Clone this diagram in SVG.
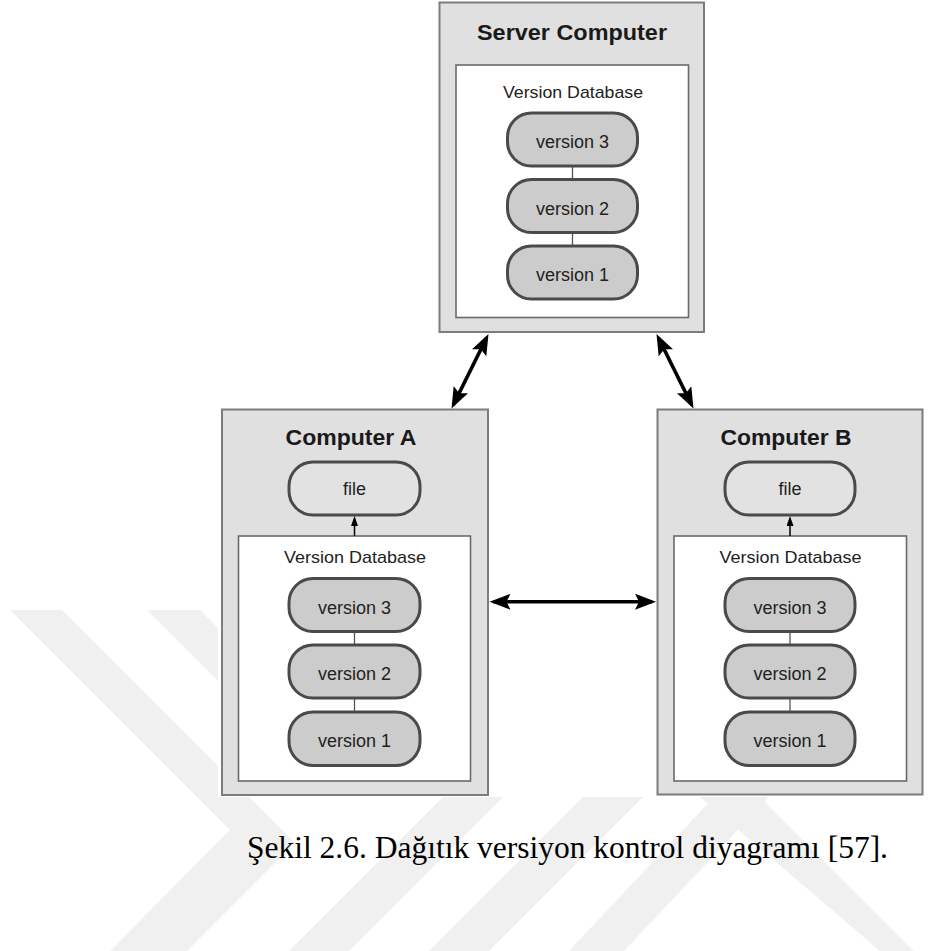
<svg xmlns="http://www.w3.org/2000/svg" width="949" height="951" viewBox="0 0 949 951">
  <style>
    .wm { fill: #f0f0f0; }
    .outer { fill: #e0e0e0; stroke: #7c7c7c; stroke-width: 2; }
    .inner { fill: #ffffff; stroke: #6a6a6a; stroke-width: 1.6; }
    .pill { fill: #cccccc; stroke: #4a4a4a; stroke-width: 3; }
    .file { fill: #e2e2e2; stroke: #4a4a4a; stroke-width: 3; }
    .link { stroke: #555555; stroke-width: 1.3; }
    .title { font-family: "Liberation Sans", Arial, sans-serif; font-weight: bold; font-size: 21.5px; fill: #1a1a1a; text-anchor: middle; }
    .db { font-family: "Liberation Sans", Arial, sans-serif; font-size: 17px; fill: #222222; text-anchor: middle; }
    .lbl { font-family: "Liberation Sans", Arial, sans-serif; font-size: 18px; fill: #222222; text-anchor: middle; }
    .caption { font-family: "Liberation Serif", "Times New Roman", serif; font-size: 30.5px; fill: #000000; }
    .big { stroke: #000000; stroke-width: 3.5; fill: none; }
    .small { stroke: #000000; stroke-width: 1.5; fill: none; }
  </style>
  <defs>
    <marker id="head" markerUnits="userSpaceOnUse" markerWidth="22" markerHeight="17" refX="17" refY="8" orient="auto-start-reverse">
      <path d="M0,0 L21,8 L0,16 L4,8 z" fill="#000000"/>
    </marker>
    <marker id="tip" markerUnits="userSpaceOnUse" markerWidth="11" markerHeight="8" refX="7.5" refY="3.5" orient="auto">
      <path d="M0,0 L10,3.5 L0,7 z" fill="#000000"/>
    </marker>
  </defs>

  <!-- page background and faint background bands -->
  <rect x="0" y="0" width="949" height="951" fill="#ffffff"/>
  <g id="background-bands">
    <polygon class="wm" points="10,610 62,610 295,843 187,951 110,951 230,830"/>
    <polygon class="wm" points="147,610 200,610 380,790 327,790"/>
    <polygon class="wm" points="1240,0 1300,0 349,951 289,951" transform="translate(0,0)"/>
    <polygon class="wm" points="1380,0 1440,0 489,951 429,951"/>
    <polygon class="wm" points="700,797 760,797 949,986 949,951 880,951"/>
    <polygon class="wm" points="714,797 769,797 624,951 569,951"/>
  </g>

  <!-- figure area -->
  <rect x="218" y="0" width="731" height="797" fill="#ffffff"/>

  <g id="server-computer">
    <rect class="outer" x="439.5" y="2.5" width="264.5" height="329.5"/>
    <text class="title" x="572" y="40" textLength="190" lengthAdjust="spacingAndGlyphs">Server Computer</text>
    <rect class="inner" x="456" y="65" width="232.5" height="252.5"/>
    <text class="db" x="573" y="98" textLength="140" lengthAdjust="spacingAndGlyphs">Version Database</text>
    <line class="link" x1="572.5" y1="166" x2="572.5" y2="179.5"/>
    <line class="link" x1="572.5" y1="232.5" x2="572.5" y2="246"/>
    <rect class="pill" x="507.5" y="113" width="130" height="53" rx="24" ry="24"/>
    <text class="lbl" x="572.5" y="148">version 3</text>
    <rect class="pill" x="507.5" y="179.5" width="130" height="53" rx="24" ry="24"/>
    <text class="lbl" x="572.5" y="214.5">version 2</text>
    <rect class="pill" x="507.5" y="246" width="130" height="53" rx="24" ry="24"/>
    <text class="lbl" x="572.5" y="281">version 1</text>
  </g>

  <g id="computer-a">
    <rect class="outer" x="222" y="409.5" width="266" height="385.5"/>
    <text class="title" x="351" y="445" textLength="131" lengthAdjust="spacingAndGlyphs">Computer A</text>
    <rect class="file" x="289" y="462" width="131" height="53" rx="24" ry="24"/>
    <text class="lbl" x="354.5" y="495">file</text>
    <rect class="inner" x="238.5" y="536" width="232" height="245"/>
    <text class="db" x="355" y="563" textLength="142" lengthAdjust="spacingAndGlyphs">Version Database</text>
    <line class="link" x1="354.5" y1="631.5" x2="354.5" y2="645"/>
    <line class="link" x1="354.5" y1="698" x2="354.5" y2="712"/>
    <rect class="pill" x="289" y="578.5" width="131" height="53" rx="24" ry="24"/>
    <text class="lbl" x="354.5" y="613.5">version 3</text>
    <rect class="pill" x="289" y="645" width="131" height="53" rx="24" ry="24"/>
    <text class="lbl" x="354.5" y="680">version 2</text>
    <rect class="pill" x="289" y="712" width="131" height="53.5" rx="24" ry="24"/>
    <text class="lbl" x="354.5" y="747">version 1</text>
  </g>

  <g id="computer-b">
    <rect class="outer" x="657.5" y="409.5" width="265" height="385"/>
    <text class="title" x="786" y="445" textLength="131" lengthAdjust="spacingAndGlyphs">Computer B</text>
    <rect class="file" x="725" y="462" width="130" height="53" rx="24" ry="24"/>
    <text class="lbl" x="790" y="495">file</text>
    <rect class="inner" x="674" y="536" width="232.5" height="245"/>
    <text class="db" x="790.5" y="563" textLength="142" lengthAdjust="spacingAndGlyphs">Version Database</text>
    <line class="link" x1="790" y1="631.5" x2="790" y2="645"/>
    <line class="link" x1="790" y1="698" x2="790" y2="712"/>
    <rect class="pill" x="725" y="578.5" width="130" height="53" rx="24" ry="24"/>
    <text class="lbl" x="790" y="613.5">version 3</text>
    <rect class="pill" x="725" y="645" width="130" height="53" rx="24" ry="24"/>
    <text class="lbl" x="790" y="680">version 2</text>
    <rect class="pill" x="725" y="712" width="130" height="53.5" rx="24" ry="24"/>
    <text class="lbl" x="790" y="747">version 1</text>
  </g>

  <g id="connectors">
    <line class="big" x1="486.7" y1="337.6" x2="453.3" y2="404.9" marker-start="url(#head)" marker-end="url(#head)"/>
    <line class="big" x1="658.3" y1="337.6" x2="691.7" y2="404.9" marker-start="url(#head)" marker-end="url(#head)"/>
    <line class="big" x1="493.5" y1="601.7" x2="652" y2="601.7" marker-start="url(#head)" marker-end="url(#head)"/>
    <line class="small" x1="354.5" y1="536" x2="354.5" y2="518.5" marker-end="url(#tip)"/>
    <line class="small" x1="790" y1="536" x2="790" y2="518.5" marker-end="url(#tip)"/>
  </g>

  <text class="caption" x="247" y="858" textLength="641" lengthAdjust="spacingAndGlyphs">Şekil 2.6. Dağıtık versiyon kontrol diyagramı [57].</text>
</svg>
